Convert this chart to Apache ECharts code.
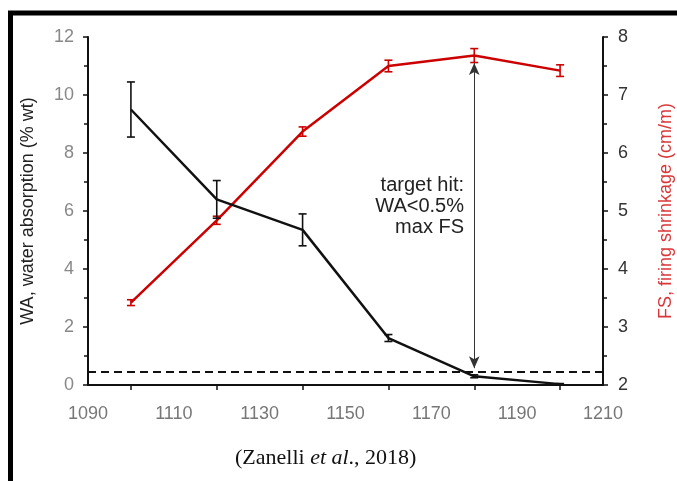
<html>

<head>
    <script src="https://cdn.jsdelivr.net/npm/echarts@6/dist/echarts.min.js"></script>
    <style>
        body {
            margin: 0;
        }

        #chart {
            width: 677px;
            height: 481px;
        }
    </style>
</head>

<body>
    <div id="chart"></div>
    <script>
        // firing temperatures (x), water absorption (left axis), firing shrinkage (right axis)
        var temps = [1100, 1120, 1140, 1160, 1180, 1200];
        var waValues = [9.5, 6.4, 5.35, 1.62, 0.3, 0.03];
        var waErrors = [0.95, 0.65, 0.55, 0.12, 0.05, 0.02];
        var fsValues = [3.42, 4.84, 6.37, 7.5, 7.68, 7.42];
        var fsErrors = [0.05, 0.07, 0.08, 0.1, 0.12, 0.1];
        var waTarget = 0.45;
        var arrowX = 1180;
        var arrowFs = [7.55, 2.29];

        function pairs(values) {
            return temps.map(function (t, i) { return [t, values[i]]; });
        }

        function errorBars(values, errors, color, axisIndex) {
            return {
                type: 'custom',
                yAxisIndex: axisIndex,
                silent: true,
                z: 3,
                renderItem: function (params, api) {
                    var lo = api.coord([api.value(0), api.value(1)]);
                    var hi = api.coord([api.value(0), api.value(2)]);
                    var w = 4;
                    var st = { stroke: color, lineWidth: 1.6 };
                    return {
                        type: 'group',
                        children: [
                            { type: 'line', shape: { x1: hi[0], y1: hi[1], x2: lo[0], y2: lo[1] }, style: st },
                            { type: 'line', shape: { x1: hi[0] - w, y1: hi[1], x2: hi[0] + w, y2: hi[1] }, style: st },
                            { type: 'line', shape: { x1: lo[0] - w, y1: lo[1], x2: lo[0] + w, y2: lo[1] }, style: st }
                        ]
                    };
                },
                data: temps.map(function (t, i) {
                    return [t, values[i] - errors[i], values[i] + errors[i]];
                })
            };
        }

        var font = 'Liberation Sans';
        var axisLine = { show: true, lineStyle: { color: '#111', width: 2 } };

        var myChart = echarts.init(document.getElementById('chart'));
        var option = {
            animation: false,
            backgroundColor: '#fff',
            grid: { left: 88, right: 74, top: 37, bottom: 96, containLabel: false, outerBoundsMode: 'none' },
            title: {
                left: 230,
                top: 436,
                text: '{n|(Zanelli }{i|et al}{n|., 2018)}',
                textStyle: {
                    rich: {
                        n: { fontFamily: 'Liberation Serif', fontSize: 22, color: '#111', fontWeight: 'normal' },
                        i: { fontFamily: 'Liberation Serif', fontSize: 22, color: '#111', fontWeight: 'normal', fontStyle: 'italic' }
                    }
                }
            },
            graphic: [
                {
                    type: 'rect',
                    shape: { x: 10.5, y: 13, width: 700, height: 520 },
                    style: { fill: 'none', stroke: '#000', lineWidth: 5 },
                    z: 10
                },
                {
                    type: 'text',
                    right: 213,
                    top: 168,
                    style: {
                        text: 'target hit:\nWA<0.5%\nmax FS',
                        font: '20px "Liberation Sans"',
                        fill: '#222',
                        textAlign: 'right',
                        lineHeight: 21
                    }
                }
            ],
            xAxis: {
                type: 'value',
                min: 1090,
                max: 1210,
                interval: 20,
                axisLine: axisLine,
                axisTick: { show: false },
                minorTick: { show: true, splitNumber: 2, length: 5, lineStyle: { color: '#111', width: 1.5 } },
                splitLine: { show: false },
                axisLabel: {
                    fontFamily: font, fontSize: 18, color: '#777', margin: 14,
                    formatter: function (v) { return String(v); }
                }
            },
            yAxis: [
                {
                    type: 'value',
                    min: 0,
                    max: 12,
                    interval: 2,
                    name: 'WA, water absorption (% wt)',
                    nameLocation: 'middle',
                    nameGap: 40,
                    nameTextStyle: { fontFamily: font, fontSize: 18, color: '#222' },
                    axisLine: axisLine,
                    axisTick: { show: true, length: 5, lineStyle: { color: '#111', width: 1.5 } },
                    minorTick: { show: true, splitNumber: 2, length: 4, lineStyle: { color: '#111', width: 1.5 } },
                    splitLine: { show: false },
                    axisLabel: { fontFamily: font, fontSize: 18, color: '#888', margin: 14 }
                },
                {
                    type: 'value',
                    min: 2,
                    max: 8,
                    interval: 1,
                    position: 'right',
                    name: 'FS, firing shrinkage (cm/m)',
                    nameLocation: 'middle',
                    nameGap: 48,
                    nameRotate: 90,
                    nameTextStyle: { fontFamily: font, fontSize: 18, color: '#d9383a' },
                    axisLine: axisLine,
                    axisTick: { show: true, length: 5, lineStyle: { color: '#111', width: 1.5 } },
                    minorTick: { show: true, splitNumber: 2, length: 4, lineStyle: { color: '#111', width: 1.5 } },
                    splitLine: { show: false },
                    axisLabel: { fontFamily: font, fontSize: 18, color: '#333', margin: 15 }
                }
            ],
            series: [
                {
                    name: 'FS',
                    type: 'line',
                    yAxisIndex: 1,
                    data: pairs(fsValues),
                    symbol: 'none',
                    lineStyle: { color: '#cc0000', width: 2.5 },
                    z: 2,
                    markLine: {
                        silent: true,
                        symbol: ['arrow', 'arrow'],
                        symbolSize: [8, 12],
                        label: { show: false },
                        lineStyle: { color: '#333', width: 1, type: 'solid' },
                        data: [[{ coord: [arrowX, arrowFs[0]] }, { coord: [arrowX, arrowFs[1]] }]]
                    }
                },
                errorBars(fsValues, fsErrors, '#cc0000', 1),
                {
                    name: 'WA',
                    type: 'line',
                    yAxisIndex: 0,
                    data: pairs(waValues),
                    symbol: 'none',
                    lineStyle: { color: '#111', width: 2.5 },
                    z: 4,
                    markLine: {
                        silent: true,
                        symbol: 'none',
                        label: { show: false },
                        lineStyle: { color: '#111', width: 2, type: [8, 5] },
                        data: [{ yAxis: waTarget }]
                    }
                },
                errorBars(waValues, waErrors, '#111', 0)
            ]
        };

        myChart.setOption(option);
    </script>
</body>

</html>
